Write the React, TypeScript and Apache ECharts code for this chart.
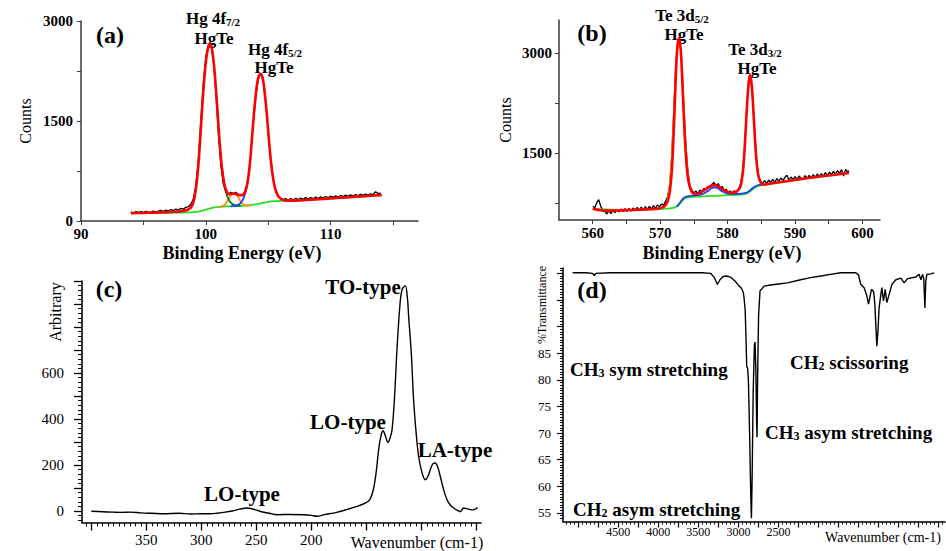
import React, { useEffect, useRef } from "react";
import * as echarts from "echarts";

const SERIF = "'Liberation Serif', 'Times New Roman', serif";

// ---------- Panel (a): Hg 4f XPS ----------
const aXTickLabels = [90, 100, 110];
const aYTickLabels = [0, 1500, 3000];
const aRaw = [[94.0,135],[94.2,122],[94.4,140],[94.6,128],[94.8,142],[95.0,126],[95.2,145],[95.4,130],[95.6,138],[95.8,150],[96.0,135],[96.2,148],[96.4,158],[96.6,142],[96.8,165],[97.0,150],[97.2,172],[97.4,158],[97.6,180],[97.8,165],[98.0,190],[98.2,178],[98.4,205],[98.6,215],[98.8,250],[99.0,330],[99.2,530],[99.4,910],[99.6,1500],[99.8,2060],[100.0,2460],[100.2,2640],[100.4,2665],[100.6,2440],[100.8,1940],[101.0,1340],[101.2,850],[101.4,555],[101.6,440],[101.8,405],[102.0,430],[102.2,412],[102.4,432],[102.6,398],[102.8,385],[103.0,400],[103.2,475],[103.4,630],[103.6,990],[103.8,1460],[104.0,1860],[104.2,2130],[104.4,2215],[104.6,2090],[104.8,1770],[105.0,1340],[105.2,925],[105.4,625],[105.6,455],[105.8,375],[106.0,345],[106.2,322],[106.4,335],[106.6,312],[106.8,338],[107.0,318],[107.2,342],[107.4,320],[107.6,345],[107.8,326],[108.0,350],[108.2,330],[108.4,352],[108.6,335],[108.8,360],[109.0,338],[109.2,362],[109.4,345],[109.6,368],[109.8,350],[110.0,372],[110.2,355],[110.4,378],[110.6,360],[110.8,382],[111.0,366],[111.2,388],[111.4,370],[111.6,392],[111.8,375],[112.0,396],[112.2,380],[112.4,400],[112.6,384],[112.8,404],[113.0,390],[113.2,408],[113.4,395],[113.6,440],[113.8,412],[114.0,420]];
const aFit = [[94.0,118],[95.0,121],[96.0,126],[97.0,133],[97.5,139],[98.0,147],[98.5,166],[98.8,200],[99.0,280],[99.2,470],[99.4,830],[99.6,1380],[99.8,1950],[100.0,2380],[100.2,2610],[100.35,2650],[100.5,2570],[100.7,2250],[100.9,1750],[101.1,1200],[101.3,780],[101.5,540],[101.7,430],[101.9,402],[102.1,408],[102.3,412],[102.5,402],[102.7,388],[102.9,388],[103.1,420],[103.3,540],[103.5,800],[103.7,1250],[103.9,1700],[104.1,2050],[104.25,2180],[104.4,2205],[104.55,2150],[104.7,1960],[104.9,1580],[105.1,1120],[105.3,760],[105.5,530],[105.7,410],[105.9,350],[106.2,316],[106.6,305],[107.5,308],[108.5,320],[109.5,332],[110.5,345],[111.5,357],[112.5,370],[113.5,382],[114.1,390]];
const aBackground = [[94.0,117],[96.0,121],[98.0,127],[99.0,134],[99.5,145],[100.0,170],[100.5,198],[101.0,212],[101.5,218],[102.0,221],[102.5,224],[103.0,228],[103.5,236],[104.0,248],[104.5,269],[105.0,287],[105.5,297],[106.0,302],[106.5,305],[107.5,308],[108.5,320],[109.5,332],[110.5,345],[111.5,357],[112.5,370],[113.5,382],[114.1,390]];
const aSatellite = [[101.0,213],[101.3,222],[101.6,262],[101.8,322],[102.0,385],[102.2,406],[102.4,396],[102.6,352],[102.8,292],[103.0,252],[103.3,233],[103.6,237]];
const aHg4f72 = [[101.3,775],[101.5,525],[101.7,380],[101.9,300],[102.1,258],[102.3,238],[102.5,230],[102.8,228]];
const aHg4f52 = [[102.0,223],[102.3,228],[102.6,242],[102.8,272],[103.0,332],[103.2,445],[103.4,625]];

// ---------- Panel (b): Te 3d XPS ----------
const bXTickLabels = [560, 570, 580, 590, 600];
const bYTickLabels = [1500, 3000];
const bRaw = [[560.0,705],[560.3,680],[560.6,760],[560.9,805],[561.2,700],[561.5,655],[561.8,625],[562.1,590],[562.4,640],[562.7,595],[563.0,650],[563.3,610],[563.6,660],[563.9,620],[564.2,665],[564.5,625],[564.8,670],[565.1,630],[565.4,675],[565.7,635],[566.0,680],[566.3,640],[566.6,690],[566.9,645],[567.2,695],[567.5,650],[567.8,700],[568.1,660],[568.4,705],[568.7,665],[569.0,715],[569.3,675],[569.6,725],[569.9,700],[570.2,740],[570.5,720],[570.8,780],[571.1,850],[571.4,1020],[571.7,1450],[572.0,2100],[572.3,2800],[572.6,3150],[572.9,3200],[573.2,2850],[573.5,2250],[573.8,1650],[574.1,1250],[574.4,1020],[574.7,950],[575.0,905],[575.3,935],[575.6,895],[575.9,950],[576.2,925],[576.5,975],[576.8,950],[577.1,1000],[577.4,990],[577.7,1040],[578.0,1060],[578.3,1020],[578.6,1045],[578.9,985],[579.2,1000],[579.5,945],[579.8,960],[580.1,905],[580.4,935],[580.7,900],[581.0,940],[581.3,915],[581.6,960],[581.9,1030],[582.2,1200],[582.5,1550],[582.8,2100],[583.1,2550],[583.4,2650],[583.7,2350],[584.0,1850],[584.3,1400],[584.6,1150],[584.9,1080],[585.2,1045],[585.5,1090],[585.8,1050],[586.1,1100],[586.4,1060],[586.7,1110],[587.0,1065],[587.3,1120],[587.6,1080],[587.9,1130],[588.2,1090],[588.5,1140],[588.8,1170],[589.1,1100],[589.4,1145],[589.7,1105],[590.0,1150],[590.3,1110],[590.6,1160],[590.9,1120],[591.2,1105],[591.5,1165],[591.8,1125],[592.1,1170],[592.4,1130],[592.7,1180],[593.0,1140],[593.3,1190],[593.6,1150],[593.9,1195],[594.2,1160],[594.5,1210],[594.8,1170],[595.1,1220],[595.4,1180],[595.7,1230],[596.0,1190],[596.3,1240],[596.6,1200],[596.9,1255],[597.2,1160],[597.5,1260],[597.8,1220],[598.0,1240]];
const bFit = [[560,670],[562,640],[564,645],[566,652],[568,660],[570,675],[570.8,720],[571.3,850],[571.7,1200],[572.0,1800],[572.3,2600],[572.55,3100],[572.8,3230],[573.05,3050],[573.3,2550],[573.6,1850],[573.9,1350],[574.2,1080],[574.6,940],[575.0,895],[575.5,890],[576.0,910],[576.6,950],[577.2,995],[577.8,1020],[578.2,1020],[578.8,990],[579.5,945],[580.2,915],[580.8,910],[581.4,930],[581.9,1000],[582.3,1250],[582.6,1700],[582.9,2250],[583.15,2580],[583.35,2675],[583.6,2500],[583.9,2000],[584.2,1500],[584.5,1200],[584.9,1060],[585.4,1030],[586,1040],[588,1070],[590,1100],[592,1130],[594,1155],[596,1180],[598,1205]];
const bBackground = [[560,665],[565,650],[569,660],[570.5,668],[571.5,675],[572.2,690],[572.8,730],[573.3,790],[573.8,830],[574.5,845],[576,852],[578,862],[580,872],[582,882],[582.8,895],[583.4,935],[584,985],[584.5,1008],[585.2,1025],[586,1040],[588,1070],[590,1100],[592,1130],[594,1155],[596,1180],[598,1205]];
const bComponent = [[572.5,700],[573.0,770],[573.5,830],[574,855],[575,865],[576,880],[577,930],[577.6,975],[578.0,990],[578.5,980],[579.2,930],[580,895],[581,888],[582,895],[582.8,910],[583.4,950],[584,1000],[584.6,1025],[585.3,1035]];
const bTe3d52 = [[570.6,680],[571.0,760],[571.4,1000],[571.8,1550],[572.1,2250],[572.4,2850],[572.7,3180],[572.9,3200],[573.1,3000],[573.4,2400],[573.7,1750],[574.0,1280],[574.3,1040],[574.7,900]];

// ---------- Panel (c): Raman ----------
const cXTickLabels = [350, 300, 250, 200];
const cYTickLabels = [0, 200, 400, 600];
const cRaman = [[400,-1],[390,-3],[380,-5],[373,-6],[365,-5],[355,-8],[345,-10],[334,-12],[320,-10],[310,-13],[300,-12],[292,-12],[285,-9],[280,-6],[272,0],[265,8],[258.5,13],[252,7],[246,-2],[238,-10],[231,-16],[220,-15],[207,-16],[200,-19],[195,-23],[188,-16],[177,-6],[168,6],[158.5,20],[152,32],[147,48],[143.5,95],[141,170],[138.8,266],[136.5,330],[134.8,349],[132.5,325],[130.3,298],[128.5,315],[126.6,353],[124.5,480],[122.1,701],[119.5,890],[117.5,962],[114.5,980],[112.5,920],[111.5,846],[109,680],[107,484],[104.5,330],[102.4,237],[99.5,170],[96.4,136],[94,150],[91.8,180],[89.5,205],[87.3,209],[85,190],[82.7,150],[79.5,90],[76.6,49],[73.5,25],[70.6,13],[67.5,4],[64.5,-3],[61.5,13],[57,8],[52.5,5],[48.8,15]];

// ---------- Panel (d): FTIR ----------
const dXTickLabels = [4500, 4000, 3500, 3000, 2500];
const dYTickLabels = [55, 60, 65, 70, 75, 80, 85];
const dFTIR = [[5070,100.1],[4900,100.1],[4820,100.0],[4800,99.6],[4780,100.0],[4600,100.1],[4300,100.1],[4000,100.1],[3700,100.1],[3450,100.1],[3346,100.0],[3300,99.2],[3262,97.9],[3230,98.8],[3190,99.4],[3150,99.5],[3100,99.3],[3040,98.5],[2990,97.6],[2962,97.2],[2940,96.5],[2930,95.5],[2915,93],[2905,88],[2896,82.5],[2885,82.2],[2875,80],[2860,70],[2845,58],[2837,54.0],[2828,62],[2815,78],[2800,86.5],[2792,87.1],[2782,82],[2772,72],[2767,69.2],[2760,80],[2748,92],[2730,96.7],[2700,97.2],[2680,97.6],[2600,97.8],[2500,98.0],[2387,98.2],[2250,98.7],[2100,99.2],[1971,99.5],[1850,99.8],[1721,100.1],[1534,100.1],[1500,99.7],[1471,97.9],[1430,97.3],[1400,96.0],[1375,94.2],[1338,97.0],[1310,96.5],[1296,94.2],[1283,90],[1271,86.3],[1258,89],[1243,93.5],[1209,97.3],[1188,94.8],[1167,97.0],[1146,94.5],[1118,96.0],[1084,97.9],[1034,98.8],[971,99.1],[930,98.2],[888,99.0],[784,99.3],[743,99.8],[721,98.8],[700,99.8],[685,99.0],[671,93.5],[660,98.5],[646,99.8],[596,99.9],[555,100.1]];

const range = (a: number, b: number, s: number) => {
  const r: number[] = [];
  for (let v = a; v <= b + 1e-9; v += s) r.push(Math.round(v * 1000) / 1000);
  return r;
};

function axis(o: any) {
  const weight = o.fw || "normal";
  return {
    type: "value",
    gridIndex: o.grid,
    min: o.min,
    max: o.max,
    inverse: !!o.inverse,
    position: o.position,
    axisLine: { show: o.line !== false, onZero: false, lineStyle: { color: o.color || "#000", width: o.lw || 1.3 } },
    axisTick: { show: true, inside: false, customValues: o.ticks, length: o.tl, lineStyle: { color: o.color || "#000", width: o.tw || 1 } },
    axisLabel: o.labels
      ? {
          show: true,
          customValues: o.labels,
          formatter: (v: number) => `{t|${v}}`,
          fontFamily: SERIF,
          fontSize: o.fs,
          fontWeight: weight,
          color: "#000",
          margin: o.margin,
          rich: { t: { fontFamily: SERIF, fontSize: o.fs, fontWeight: weight, color: "#000" } },
        }
      : { show: false },
    splitLine: { show: false },
    splitArea: { show: false },
  };
}

function line(xi: number, data: number[][], color: string, width: number, smooth: any = false) {
  return {
    type: "line",
    xAxisIndex: xi,
    yAxisIndex: xi,
    data,
    symbol: "none",
    showSymbol: false,
    smooth,
    lineStyle: { color, width },
    itemStyle: { color },
    silent: true,
  };
}

const txt = (x: number, y: number, text: string, size: number, weight = "bold", align = "center", rotation = 0) => ({
  type: "text",
  x,
  y,
  rotation,
  style: { text, fontFamily: SERIF, fontSize: size, fontWeight: weight, fill: "#000", align, verticalAlign: "middle" },
});

const sub = (x: number, y: number, main: string, s: string, rest: string, size: number, ssize: number, align = "center") => ({
  type: "text",
  x,
  y,
  style: {
    text: `{m|${main}}{s|${s}}` + (rest ? `{m|${rest}}` : ""),
    align,
    verticalAlign: "middle",
    rich: {
      m: { fontFamily: SERIF, fontSize: size, fontWeight: "bold", fill: "#000", color: "#000", lineHeight: size + 1 },
      s: { fontFamily: SERIF, fontSize: ssize, fontWeight: "bold", fill: "#000", color: "#000", lineHeight: ssize - 2, verticalAlign: "bottom" },
    },
  },
});

export default function App() {
  const ref = useRef<HTMLDivElement>(null);
  useEffect(() => {
    if (!ref.current) return;
    const chart = echarts.init(ref.current, undefined, { renderer: "svg" });
    const gray = "#3a3a3a";
    const option: any = {
      animation: false,
      backgroundColor: "#fff",
      textStyle: { fontFamily: SERIF },
      grid: [
        { left: 81, top: 21, width: 337, height: 200, outerBoundsMode: "none" },
        { left: 559, top: 20, width: 321, height: 200, outerBoundsMode: "none" },
        { left: 82, top: 281, width: 399, height: 241.5, outerBoundsMode: "none" },
        { left: 563, top: 268, width: 382, height: 253.5, outerBoundsMode: "none" },
      ],
      xAxis: [
        axis({ grid: 0, min: 90, max: 117, position: "bottom", color: gray, lw: 1.5, ticks: range(90, 115, 5), tl: 4, labels: aXTickLabels, fs: 15, fw: "bold", margin: 5 }),
        axis({ grid: 1, min: 555, max: 602.6, position: "bottom", color: gray, lw: 1.5, ticks: range(560, 600, 5), tl: 4, labels: bXTickLabels, fs: 15, fw: "bold", margin: 5 }),
        axis({ grid: 2, min: 45.7, max: 408.5, inverse: true, position: "bottom", lw: 1.6, ticks: range(50, 400, 50), tl: 8, tw: 1.3, labels: cXTickLabels, fs: 15, margin: 10 }),
        axis({ grid: 3, min: 420, max: 5190, inverse: true, position: "bottom", lw: 1.6, ticks: range(500, 5000, 250), tl: 6, tw: 1.2, labels: dXTickLabels, fs: 12, margin: 4 }),
        axis({ grid: 2, min: 45.7, max: 408.5, inverse: true, position: "bottom", line: false, ticks: range(50, 405, 5), tl: 4 }),
        axis({ grid: 3, min: 420, max: 5190, inverse: true, position: "bottom", line: false, ticks: range(450, 5150, 50), tl: 3 }),
      ],
      yAxis: [
        axis({ grid: 0, min: 0, max: 3000, position: "left", color: gray, lw: 1.5, ticks: [0, 750, 1500, 2250, 3000], tl: 4, labels: aYTickLabels, fs: 15, fw: "bold", margin: 8 }),
        axis({ grid: 1, min: 500, max: 3500, position: "left", color: gray, lw: 1.5, ticks: [750, 1500, 2250, 3000], tl: 4, labels: bYTickLabels, fs: 15, fw: "bold", margin: 7 }),
        axis({ grid: 2, min: -50, max: 1000, position: "left", lw: 1.6, ticks: range(0, 1000, 100), tl: 8, tw: 1.3, labels: cYTickLabels, fs: 15, margin: 18 }),
        axis({ grid: 3, min: 53.4, max: 101, position: "left", lw: 1.6, ticks: range(55, 100, 5), tl: 6, tw: 1.2, labels: dYTickLabels, fs: 13, margin: 12 }),
        axis({ grid: 2, min: -50, max: 1000, position: "left", line: false, ticks: range(-40, 1000, 20), tl: 4 }),
        axis({ grid: 3, min: 53.4, max: 101, position: "left", line: false, ticks: range(54, 101, 0.5), tl: 3 }),
      ],
      series: [
        line(0, aRaw, "#000", 1.3),
        line(0, aBackground, "#22e022", 1.8, 0.3),
        line(0, aSatellite, "#ff8c1a", 1.8, 0.4),
        line(0, aHg4f72, "#0b7a0b", 1.8, 0.4),
        line(0, aHg4f52, "#1f3cff", 1.8, 0.4),
        line(0, aFit, "#ff0000", 2.6, 0.35),
        line(1, bRaw, "#000", 1.3),
        line(1, bBackground, "#22e022", 1.8, 0.3),
        line(1, bComponent, "#1f3cff", 1.8, 0.4),
        line(1, bTe3d52, "#ffd21a", 1.8, 0.35),
        line(1, bFit, "#ff0000", 2.6, 0.35),
        line(2, cRaman, "#000", 1.4, 0.35),
        line(3, dFTIR, "#000", 1.4),
      ],
      graphic: [
        // (a)
        txt(110, 35, "(a)", 24),
        sub(213, 18, "Hg 4f", "7/2", "", 17, 11),
        txt(214, 38, "HgTe", 17),
        sub(275, 49, "Hg 4f", "5/2", "", 17, 11),
        txt(274, 67, "HgTe", 17),
        txt(25, 121, "Counts", 16, "normal", "center", Math.PI / 2),
        txt(242, 253, "Binding Energy (eV)", 18),
        // (b)
        txt(592, 33, "(b)", 24),
        sub(682, 15, "Te 3d", "5/2", "", 17, 11),
        txt(684, 34, "HgTe", 17),
        sub(755, 49, "Te 3d", "3/2", "", 17, 11),
        txt(757, 68, "HgTe", 17),
        txt(505, 120, "Counts", 16, "normal", "center", Math.PI / 2),
        txt(722, 253, "Binding Energy (eV)", 18),
        // (c)
        txt(109, 289, "(c)", 24),
        txt(363, 287, "TO-type", 21),
        txt(348, 422, "LO-type", 21),
        txt(455, 450, "LA-type", 21),
        txt(242, 494, "LO-type", 21),
        txt(55, 312, "Arbitrary", 16, "normal", "center", Math.PI / 2),
        txt(417, 542, "Wavenumber (cm-1)", 16, "normal"),
        // (d)
        txt(592, 290, "(d)", 24),
        txt(542, 305, "%Transmittance", 12, "normal", "center", Math.PI / 2),
        txt(883, 537, "Wavenumber (cm-1)", 14, "normal"),
        sub(570, 369, "CH", "3", " sym stretching", 19, 12, "left"),
        sub(790, 362, "CH", "2", " scissoring", 19, 12, "left"),
        sub(765, 432, "CH", "3", " asym stretching", 19, 12, "left"),
        sub(573, 509, "CH", "2", " asym stretching", 19, 12, "left"),
      ],
    };
    chart.setOption(option);
    return () => chart.dispose();
  }, []);
  return <div ref={ref} style={{ position: "fixed", left: 0, top: 0, width: 946, height: 551, background: "#fff" }} />;
}
